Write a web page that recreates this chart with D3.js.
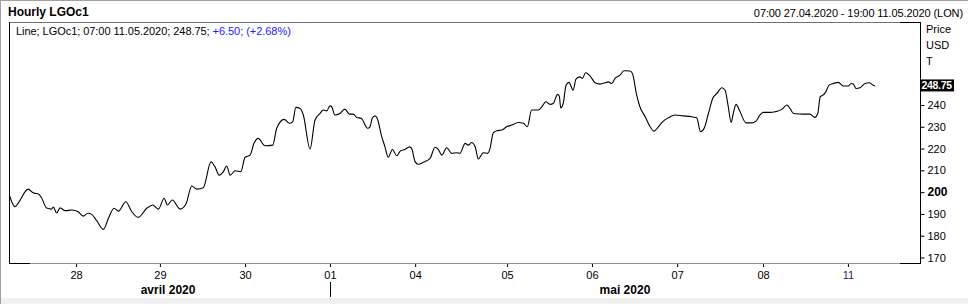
<!DOCTYPE html>
<html>
<head>
<meta charset="utf-8">
<script src="https://cdn.jsdelivr.net/npm/d3@7"></script>
<style>
  html, body { margin: 0; padding: 0; background: #fff; }
  svg { display: block; font-family: "Liberation Sans", Arial, sans-serif; }
</style>
</head>
<body>
<div id="chartbox"></div>
<script>
// hours from start of the (weekend-compressed) trading axis, and the price at that hour
var hrs = [0.1,1.7,2.6,5.4,6.8,8.3,9.2,10.6,12.0,12.5,13.4,14.4,15.8,17.7,19.5,20.9,22.3,23.3,24.7,26.6,
  28.0,29.6,30.8,32.9,34.6,36.4,38.8,40.5,42.1,43.7,44.6,46.0,48.2,49.8,51.5,52.9,54.7,56.9,58.0,59.2,
  60.4,61.3,62.3,63.7,65.3,66.5,67.9,69.0,70.2,72.1,74.3,75.4,77.5,79.0,79.9,80.8,82.0,82.9,84.8,86.2,
  87.6,88.5,89.5,90.4,90.9,91.8,93.2,94.6,95.9,97.0,97.9,99.2,101.0,101.7,102.3,103.1,103.7,105.0,105.9,106.8,
  108.0,109.2,110.3,111.5,112.8,113.4,114.4,115.3,116.7,118.6,120.0,120.9,121.9,123.3,124.7,126.1,127.0,128.5,129.4,130.3,
  131.3,132.2,133.6,134.8,135.5,136.4,137.4,138.8,140.2,141.6,143.5,144.9,146.0,147.2,149.1,150.1,151.2,152.4,153.3,154.5,
  155.0,155.4,156.1,156.9,157.7,158.9,159.7,160.8,161.5,162.4,163.7,165.1,166.5,167.9,168.8,169.8,170.7,172.1,173.2,174.9,
  175.6,176.8,177.7,179.2,180.6,181.7,182.9,184.3,185.7,187.6,189.9,192.3,193.7,194.8,195.8,197.0,198.2,199.4,200.8,201.7,
  202.6,203.4,204.0,204.8,205.7,207.6,209.2,210.4,211.5,212.5,214.4,215.8,217.7,219.1,220.0,221.0,223.7,225.6,227.0,227.8,
  228.5,229.2,229.9,231.0,232.2,233.6,235.0,236.4,237.2,237.8,238.6,239.7,241.1,242.3,243.4,243.9];
var price = [198.7,193.3,195.0,201.4,199.7,199.1,197.3,192.7,192.2,193.2,190.4,192.8,191.5,191.8,191.0,189.0,190.3,189.8,186.9,182.9,
  188.0,192.6,191.3,195.6,191.0,188.4,192.6,194.1,192.2,197.2,194.1,196.4,192.2,194.4,202.8,201.4,202.0,213.9,211.7,207.8,
  209.4,212.0,207.8,209.8,209.4,216.0,217.0,222.4,224.7,221.3,221.6,229.3,233.4,231.6,232.3,238.9,238.4,235.4,219.8,233.1,
  236.1,237.7,237.3,239.6,239.2,235.4,236.1,238.1,235.8,235.8,234.3,233.9,229.3,230.0,233.9,235.0,233.9,225.4,220.8,216.0,
  219.6,216.7,219.0,219.6,220.8,220.1,213.9,212.8,213.7,215.5,220.6,219.6,217.0,220.4,217.8,218.1,217.8,222.4,221.6,222.8,
  220.8,215.2,218.1,217.8,220.1,227.2,228.2,228.5,230.0,230.8,232.0,231.6,230.0,237.7,237.7,239.2,241.5,240.3,240.7,244.9,
  244.1,238.7,240.7,249.1,250.4,246.8,251.9,252.9,252.2,254.8,253.3,250.2,249.6,250.2,250.6,249.9,252.2,253.7,255.7,255.6,
  254.5,244.5,239.2,234.6,230.0,228.0,230.0,232.6,234.1,235.4,235.0,234.6,234.1,227.7,229.3,236.1,243.0,245.3,247.9,246.8,
  239.2,232.0,236.1,240.3,237.7,231.8,231.8,232.6,235.4,236.6,236.6,236.9,238.0,240.0,238.4,236.1,235.8,235.8,234.3,236.1,
  243.8,244.5,245.6,249.1,249.9,250.4,248.7,248.7,249.9,249.6,247.6,247.9,249.9,250.2,249.1,248.75];

var dayLabels = ["28","29","30","01","04","05","06","07","08","11"];
var dayHrs = [18.9,42.5,66.5,90.4,114.4,140.3,164.2,188.2,212.4,236.3];
var monthLabels = ["avril 2020","mai 2020"];
var monthHrs = [44.8,173.5];
var yTicks = [170,180,190,200,210,220,230,240];

var title = "Hourly LGOc1";
var rangeText = "07:00 27.04.2020 - 19:00 11.05.2020 (LON)";
var legendMain = "Line; LGOc1; 07:00 11.05.2020; 248.75; ";
var legendChg = "+6.50; (+2.68%)";
var lastPrice = 248.75;

const width = 968, height = 304;
var plot = {left: 9, right: 920, top: 22, bottom: 263};

var svg = d3.select('#chartbox').append('svg')
  .attr('width', width).attr('height', height);

svg.append('rect').attr('width', width).attr('height', height).attr('fill', '#fff');
// window frame
svg.append('rect').attr('x', 0).attr('y', 298).attr('width', width).attr('height', 6).attr('fill', '#f0f0f0');
svg.append('line').attr('x1', 0.5).attr('x2', 0.5).attr('y1', 0).attr('y2', height).attr('stroke', '#a0a0a0');
svg.append('line').attr('x1', 0).attr('x2', width).attr('y1', 0.5).attr('y2', 0.5).attr('stroke', '#a0a0a0');

var x = d3.scaleLinear().domain([0, 256.6]).range([plot.left, plot.right]);
var y = d3.scaleLinear().domain([170, 240]).range([257.5, 105]);

// header
svg.append('text').attr('x', 8).attr('y', 16).attr('font-size', 12).attr('font-weight', 'bold').text(title);
svg.append('text').attr('x', 963).attr('y', 17).attr('font-size', 11).attr('letter-spacing', -0.1)
  .attr('text-anchor', 'end').text(rangeText);

// plot frame
svg.append('line').attr('x1', plot.left).attr('x2', 900).attr('y1', plot.top + 0.5).attr('y2', plot.top + 0.5).attr('stroke', '#70707a');
svg.append('line').attr('x1', 900).attr('x2', plot.right + 1).attr('y1', plot.top + 0.5).attr('y2', plot.top + 0.5).attr('stroke', '#000');
svg.append('line').attr('x1', plot.left + 0.5).attr('x2', plot.left + 0.5).attr('y1', plot.top).attr('y2', plot.bottom + 1).attr('stroke', '#000');
svg.append('line').attr('x1', 30).attr('x2', 900).attr('y1', plot.bottom + 0.5).attr('y2', plot.bottom + 0.5).attr('stroke', '#909090');
svg.append('line').attr('x1', plot.left).attr('x2', 30).attr('y1', plot.bottom + 0.5).attr('y2', plot.bottom + 0.5).attr('stroke', '#000');
svg.append('line').attr('x1', 900).attr('x2', plot.right + 1).attr('y1', plot.bottom + 0.5).attr('y2', plot.bottom + 0.5).attr('stroke', '#000');
svg.append('line').attr('x1', plot.right + 0.5).attr('x2', plot.right + 0.5).attr('y1', plot.top).attr('y2', plot.bottom + 1).attr('stroke', '#000');

// legend
var leg = svg.append('text').attr('x', 16).attr('y', 35).attr('font-size', 11).attr('letter-spacing', -0.05);
leg.append('tspan').attr('fill', '#000').text(legendMain);
leg.append('tspan').attr('fill', '#2020ff').text(legendChg);

// price line
var line = d3.line().curve(d3.curveMonotoneX)
  .x(function(d, i){ return x(hrs[i]); }).y(function(d){ return y(d); });
svg.append('path').datum(price).attr('d', line)
  .attr('fill', 'none').attr('stroke', '#000').attr('stroke-width', 1.1);

// right axis
var yAxis = d3.axisRight(y).tickValues(yTicks).tickSize(4).tickPadding(3);
var gy = svg.append('g').attr('transform', 'translate(' + (plot.right + 0.5) + ',0)').call(yAxis);
gy.select('.domain').remove();
gy.selectAll('text').attr('font-family', '"Liberation Sans", Arial, sans-serif')
  .attr('font-weight', function(d){ return d === 200 ? 'bold' : 'normal'; })
  .attr('font-size', function(d){ return d === 200 ? 12 : 11; });

['Price', 'USD', 'T'].forEach(function(t, i){
  svg.append('text').attr('x', 926).attr('y', 33 + i * 16).attr('font-size', 11).text(t);
});

// last price marker
svg.append('rect').attr('x', plot.right).attr('y', y(lastPrice) - 6.5).attr('width', 34).attr('height', 12).attr('fill', '#000');
svg.append('text').attr('x', plot.right + 1.5).attr('y', y(lastPrice) + 3.5).attr('font-size', 10.5)
  .attr('letter-spacing', -0.3).attr('font-weight', 'bold').attr('fill', '#fff').text(lastPrice.toFixed(2));

// x axis
var xAxis = d3.axisBottom(x).tickValues(dayHrs).tickSize(3).tickPadding(4)
  .tickFormat(function(d, i){ return dayLabels[i]; });
var gx = svg.append('g').attr('transform', 'translate(0,' + (plot.bottom + 1) + ')').call(xAxis);
gx.select('.domain').remove();
gx.selectAll('text').attr('font-size', 11).attr('font-family', '"Liberation Sans", Arial, sans-serif')
  .attr('fill', function(d, i){ return dayLabels[i] === '11' ? '#4a1050' : '#000'; });

monthLabels.forEach(function(m, i){
  svg.append('text').attr('x', x(monthHrs[i])).attr('y', 294).attr('font-size', 12)
    .attr('font-weight', 'bold').attr('text-anchor', 'middle').text(m);
});
svg.append('line').attr('x1', Math.round(x(dayHrs[3])) + 0.5).attr('x2', Math.round(x(dayHrs[3])) + 0.5)
  .attr('y1', 282).attr('y2', 297).attr('stroke', '#000');
</script>
</body>
</html>
